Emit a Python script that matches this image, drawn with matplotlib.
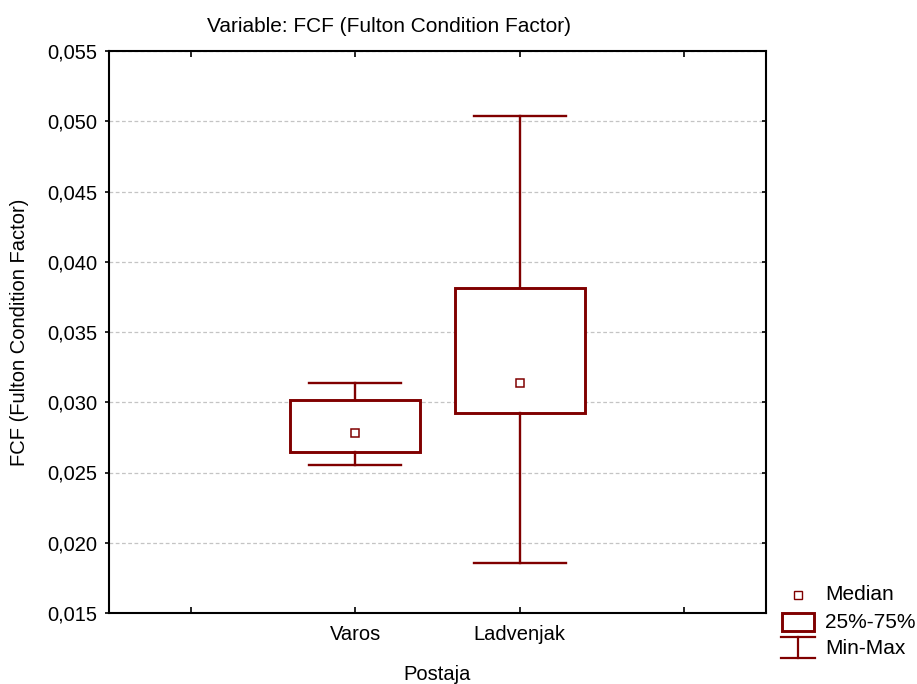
import matplotlib
matplotlib.use("Agg")
import matplotlib.pyplot as plt
from matplotlib.lines import Line2D
from matplotlib.patches import Rectangle
from matplotlib.ticker import FuncFormatter

plt.rcParams['font.family'] = ['Liberation Sans', 'DejaVu Sans']

categories = ["Varos", "Ladvenjak"]
mins = [0.02553, 0.01856]
q1s = [0.02646, 0.02923]
medians = [0.02781, 0.03137]
q3s = [0.03016, 0.03813]
maxs = [0.03137, 0.05037]

yticks = [0.015, 0.020, 0.025, 0.030, 0.035, 0.040, 0.045, 0.050, 0.055]
legend_labels = ["Median", "25%-75%", "Min-Max"]

RED = "#800000"
W, H = 917, 684
fig = plt.figure(figsize=(W / 100, H / 100), dpi=100)
ax = fig.add_axes([109 / W, 1 - 613 / H, (766 - 109) / W, (613 - 51) / H])


def fx(px):
    return px / W


def fy(py):
    return 1 - py / H


positions = [1, 2]
stats = []
for c, lo, a, m, b, hi in zip(categories, mins, q1s, medians, q3s, maxs):
    stats.append(dict(label=c, whislo=lo, q1=a, med=m, q3=b, whishi=hi))

ax.bxp(stats, positions=positions, widths=0.79, capwidths=0.56,
       showfliers=False, patch_artist=True,
       boxprops=dict(facecolor="white", edgecolor=RED, linewidth=2.1),
       whiskerprops=dict(color=RED, linewidth=1.7),
       capprops=dict(color=RED, linewidth=1.7),
       medianprops=dict(linewidth=0))
ax.plot(positions, medians, linestyle="none", marker="s", markersize=6.2,
        markerfacecolor="white", markeredgecolor=RED, markeredgewidth=1.1, zorder=5)

ax.set_xlim(-0.5, 3.5)
ax.set_ylim(0.015, 0.055)
ax.set_xticks([0, 1, 2, 3])
ax.set_xticklabels(["", "Varos", "Ladvenjak", ""])
ax.set_yticks(yticks)
ax.yaxis.set_major_formatter(FuncFormatter(lambda v, p: f"{v:.3f}".replace(".", ",")))
ax.tick_params(axis="y", direction="out", length=3, width=1.2,
               labelsize=14.5, left=True, right=True, pad=5.5)
ax.tick_params(axis="x", direction="in", length=4, width=1.2, labelsize=14.5,
               top=True, pad=9)
for t in ax.yaxis.get_major_ticks():
    t.tick2line.set_marker(0)  # inward tick on the right spine
    t.tick2line.set_markersize(3)
for s in ax.spines.values():
    s.set_linewidth(1.5)
ax.grid(axis="y", color="#c4c4c4", linestyle=(0, (3, 2)), linewidth=0.9)
ax.set_axisbelow(True)

fig.text(fx(389), fy(32), "Variable: FCF (Fulton Condition Factor)",
         fontsize=15, ha="center", va="baseline")
ax.set_xlabel("Postaja", fontsize=14.5)
ax.xaxis.set_label_coords(0.5, (613 - 674) / 562)
ax.xaxis.label.set_va("center")
ax.set_ylabel("FCF (Fulton Condition Factor)", fontsize=14.5)
ax.yaxis.set_label_coords((20 - 109) / 657, 0.5)
ax.yaxis.label.set_va("center")

# legend (drawn in figure coordinates)
fig.add_artist(Line2D([fx(798)], [fy(595)], linestyle="none", marker="s", markersize=5.5,
                      markerfacecolor="white", markeredgecolor=RED, markeredgewidth=1.0,
                      transform=fig.transFigure))
fig.add_artist(Rectangle((fx(782), fy(631)), fx(814) - fx(782), fy(613) - fy(631),
                         facecolor="white", edgecolor=RED, linewidth=2.1,
                         transform=fig.transFigure))
for seg in [((781, 815), (637, 637)), ((798, 798), (637, 658)), ((781, 815), (658, 658))]:
    fig.add_artist(Line2D([fx(v) for v in seg[0]], [fy(v) for v in seg[1]],
                          color=RED, linewidth=1.6, transform=fig.transFigure))
for lab, yc in zip(legend_labels, [595, 622, 648]):
    fig.text(fx(825), fy(yc), lab, fontsize=15, ha="left", va="center")

fig.savefig("out.png", dpi=100)
